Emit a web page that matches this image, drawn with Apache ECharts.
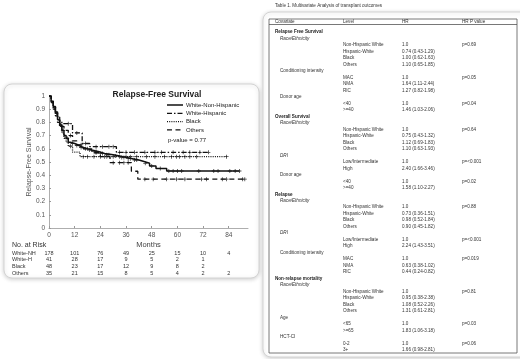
<!DOCTYPE html>
<html>
<head>
<meta charset="utf-8">
<script src="https://cdn.jsdelivr.net/npm/echarts@6/dist/echarts.min.js"></script>
<style>
  html, body { margin: 0; padding: 0; background: #fff; }
  #chart { width: 520px; height: 359px; }
</style>
</head>
<body>
<div id="chart"></div>
<script>
// ---- Kaplan-Meier data (months, survival) ----
const groupNames = ["White-Non-Hispanic", "White-Hispanic", "Black", "Others"];

const wnhTimes  = [0, 1, 2, 3, 4, 5, 6, 7, 8, 9, 10, 12, 14, 16, 18, 20, 23, 26, 30, 33, 36, 39, 42, 44, 47, 50, 55];
const wnhSurv   = [1, 0.96, 0.92, 0.87, 0.82, 0.78, 0.74, 0.70, 0.68, 0.65, 0.64, 0.625, 0.61, 0.60, 0.59, 0.58, 0.565, 0.555, 0.545, 0.535, 0.525, 0.515, 0.505, 0.49, 0.47, 0.45, 0.432];
const wnhCensor = [3.5, 5.5, 6.5, 8.5, 11, 13, 15, 17, 19, 21, 22, 24, 25, 27, 28, 31, 34, 35, 37, 38, 40, 41, 45, 48, 52, 56, 58, 60, 62, 70, 77, 79, 84.5, 87, 89];

const whTimes  = [0, 1, 2, 3, 4, 5, 6, 11, 15.5, 19, 31.5];
const whSurv   = [1, 0.96, 0.92, 0.88, 0.84, 0.81, 0.79, 0.72, 0.64, 0.616, 0.573];
const whCensor = [9, 13, 17, 22, 25, 28, 30, 33, 36, 40, 44.8, 49.5, 52.6, 58, 62.7, 65.8, 70.5, 74.5];

const blackTimes  = [0, 1, 2, 3, 4, 5, 6, 7, 8, 9, 11, 14.5];
const blackSurv   = [1, 0.96, 0.91, 0.87, 0.82, 0.77, 0.72, 0.68, 0.65, 0.62, 0.575, 0.54];
const blackCensor = [2.5, 10, 16, 18, 21, 24, 27, 30, 33, 36, 38, 41, 45.6, 49.5, 54, 57.3, 59.6, 61, 63.5, 65.8, 69, 83];

const othTimes  = [0, 1, 2, 3, 4, 5, 7, 9, 11, 13, 16, 20, 24, 28.5, 38.5, 41.5];
const othSurv   = [1, 0.95, 0.90, 0.85, 0.80, 0.77, 0.74, 0.70, 0.66, 0.63, 0.60, 0.57, 0.54, 0.495, 0.43, 0.37];
const othCensor = [6, 10, 15, 18, 22, 26, 30, 33, 35, 37, 44.8, 48.7, 54.9, 59.6, 63.5, 71.3, 73.6, 81, 83, 90.5, 91.5];

const pValueText = "p-value = 0.77";

// ---- numbers at risk ----
const riskMonths = [0, 12, 24, 36, 48, 60, 72, 84];
const riskLabels = ["White-NH", "White-H", "Black", "Others"];
const riskWNH    = [178, 101, 76, 49, 25, 15, 10, 4];
const riskWH     = [41, 28, 17, 9, 5, 2, 1, null];
const riskBlack  = [48, 23, 17, 12, 9, 8, 2, null];
const riskOthers = [35, 21, 15, 8, 5, 4, 2, 2];

// ---- table on the right ----
const tableTitle = "Table 1. Multivariate Analysis of transplant outcomes";
const tableHeader = ["Covariate", "Level", "HR", "HR P value"];
// [kind, covariate, level, HR, p]  kind: s = section, c = covariate, ci = italic covariate, l = level
const tableRows = [
  ["s", "Relapse Free Survival"],
  ["ci", "Race/Ethnicity"],
  ["l", "", "Non-Hispanic White", "1.0", "p=0.69"],
  ["l", "", "Hispanic-White", "0.74 (0.43-1.29)", ""],
  ["l", "", "Black", "1.00 (0.62-1.63)", ""],
  ["l", "", "Others", "1.10 (0.65-1.85)", ""],
  ["c", "Conditioning intensity"],
  ["l", "", "MAC", "1.0", "p=0.05"],
  ["l", "", "NMA", "1.64 (1.11-2.44)", ""],
  ["l", "", "RIC", "1.27 (0.82-1.98)", ""],
  ["c", "Donor age"],
  ["l", "", "<40", "1.0", "p=0.04"],
  ["l", "", ">=40", "1.46 (1.03-2.06)", ""],
  ["s", "Overall Survival"],
  ["ci", "Race/Ethnicity"],
  ["l", "", "Non-Hispanic White", "1.0", "p=0.64"],
  ["l", "", "Hispanic-White", "0.75 (0.43-1.32)", ""],
  ["l", "", "Black", "1.12 (0.69-1.83)", ""],
  ["l", "", "Others", "1.10 (0.63-1.93)", ""],
  ["ci", "DRI"],
  ["l", "", "Low/Intermediate", "1.0", "p=<0.001"],
  ["l", "", "High", "2.40 (1.66-3.46)", ""],
  ["c", "Donor age"],
  ["l", "", "<40", "1.0", "p=0.02"],
  ["l", "", ">=40", "1.58 (1.10-2.27)", ""],
  ["s", "Relapse"],
  ["ci", "Race/Ethnicity"],
  ["l", "", "Non-Hispanic White", "1.0", "p=0.88"],
  ["l", "", "Hispanic-White", "0.73 (0.36-1.51)", ""],
  ["l", "", "Black", "0.98 (0.52-1.84)", ""],
  ["l", "", "Others", "0.90 (0.45-1.82)", ""],
  ["ci", "DRI"],
  ["l", "", "Low/Intermediate", "1.0", "p=<0.001"],
  ["l", "", "High", "2.24 (1.43-3.51)", ""],
  ["c", "Conditioning intensity"],
  ["l", "", "MAC", "1.0", "p=0.019"],
  ["l", "", "NMA", "0.63 (0.38-1.02)", ""],
  ["l", "", "RIC", "0.44 (0.24-0.82)", ""],
  ["s", "Non-relapse mortality"],
  ["ci", "Race/Ethnicity"],
  ["l", "", "Non-Hispanic White", "1.0", "p=0.81"],
  ["l", "", "Hispanic-White", "0.95 (0.38-2.38)", ""],
  ["l", "", "Black", "1.08 (0.52-2.26)", ""],
  ["l", "", "Others", "1.31 (0.61-2.81)", ""],
  ["c", "Age"],
  ["l", "", "<65", "1.0", "p=0.03"],
  ["l", "", ">=65", "1.83 (1.06-3.18)", ""],
  ["c", "HCT-CI"],
  ["l", "", "0-2", "1.0", "p=0.06"],
  ["l", "", "3+", "1.66 (0.98-2.81)", ""]
];

const FONT = "Liberation Sans, Arial, sans-serif";

function stepData(times, surv, censor) {
  const d = times.map((t, i) => [t, surv[i]]);
  d.push([Math.max(...censor), surv[surv.length - 1]]);
  return d;
}
function survAt(times, surv, t) {
  let s = surv[0];
  for (let i = 0; i < times.length; i++) if (times[i] <= t) s = surv[i];
  return s;
}

const groups = [
  { times: wnhTimes, surv: wnhSurv, censor: wnhCensor, dash: "solid", width: 1.5 },
  { times: whTimes, surv: whSurv, censor: whCensor, dash: [5, 2, 1.5, 2], width: 1.3 },
  { times: blackTimes, surv: blackSurv, censor: blackCensor, dash: [1, 1.2], width: 1.3 },
  { times: othTimes, surv: othSurv, censor: othCensor, dash: [5, 3.5], width: 1.3 }
];

const plusPath = "path://M2,0H3V2H5V3H3V5H2V3H0V2H2Z";

const series = [];
groups.forEach((g, i) => {
  series.push({
    name: groupNames[i],
    type: "line",
    step: "end",
    symbol: "none",
    data: stepData(g.times, g.surv, g.censor),
    lineStyle: { color: "#111", width: g.width, type: g.dash },
    itemStyle: { color: "#111" },
    z: 3
  });
  series.push({
    type: "scatter",
    symbol: plusPath,
    symbolSize: 4,
    itemStyle: { color: "#111" },
    data: g.censor.map(t => [t, survAt(g.times, g.surv, t)]),
    z: 4
  });
});

const chart = echarts.init(document.getElementById("chart"));

const option = {
  animation: false,
  backgroundColor: "#fff",
  textStyle: { fontFamily: FONT },
  title: {
    text: "Relapse-Free Survival",
    left: 152, top: 85, textAlign: "center",
    textStyle: { fontSize: 8.5, fontWeight: "bold", color: "#222", fontFamily: FONT }
  },
  grid: { left: 49, top: 96, width: 199, height: 132, outerBoundsMode: "none" },
  xAxis: {
    type: "value", min: 0, max: 93, interval: 12,
    name: "Months", nameLocation: "middle", nameGap: 13,
    nameTextStyle: { fontSize: 7.5, color: "#444", fontFamily: FONT },
    axisLine: { lineStyle: { color: "#999", width: 0.8 } },
    axisTick: { inside: true, length: 2, lineStyle: { color: "#999" } },
    splitLine: { show: false },
    axisLabel: {
      fontSize: 6.5, color: "#555", margin: 4, showMaxLabel: false,
      formatter: v => (v % 12 === 0 ? String(v) : "")
    }
  },
  yAxis: {
    type: "value", min: 0, max: 1, interval: 0.1,
    name: "Relapse-Free Survival", nameLocation: "middle", nameGap: 15,
    nameTextStyle: { fontSize: 7, color: "#555", fontFamily: FONT },
    axisLine: { show: true, lineStyle: { color: "#999", width: 0.8 } },
    axisTick: { show: true, inside: true, length: 2, lineStyle: { color: "#999" } },
    splitLine: { show: false },
    axisLabel: { fontSize: 6.5, color: "#555", margin: 4, formatter: v => String(Math.round(v * 10) / 10) }
  },
  series
};

chart.setOption(option);

// ---- graphics: cards, legend, p-value, risk table, right-hand table ----
const graphics = [];

graphics.push({
  type: "rect", z: -10, silent: true,
  shape: { x: 4, y: 84, width: 255, height: 194, r: 8 },
  style: { fill: "#fff", stroke: "#d4d4d4", lineWidth: 1, shadowBlur: 4, shadowColor: "rgba(0,0,0,0.18)", shadowOffsetY: 1 }
});
graphics.push({
  type: "rect", z: -10, silent: true,
  shape: { x: 263, y: 12, width: 270, height: 345, r: 8 },
  style: { fill: "#fff", stroke: "#d4d4d4", lineWidth: 1, shadowBlur: 4, shadowColor: "rgba(0,0,0,0.18)", shadowOffsetY: 1 }
});

// legend (line samples share the series line styles)
groupNames.forEach((name, i) => {
  const y = 105 + i * 8.3;
  graphics.push({
    type: "line", silent: true,
    shape: { x1: 167, y1: y, x2: 183, y2: y },
    style: { stroke: "#111", lineWidth: groups[i].width, lineDash: groups[i].dash === "solid" ? null : groups[i].dash }
  });
  graphics.push({
    type: "text", x: 186, y,
    style: { text: name, font: "6px " + FONT, fill: "#222", textVerticalAlign: "middle" }
  });
});

graphics.push({
  type: "text", x: 168, y: 140,
  style: { text: pValueText, font: "6px " + FONT, fill: "#222", textVerticalAlign: "middle" }
});

// numbers at risk, columns placed through the x axis scale
const yBase = chart.convertToPixel({ gridIndex: 0 }, [0, 0])[1];
graphics.push({
  type: "text", x: 12, y: yBase + 17,
  style: { text: "No. at Risk", font: "7px " + FONT, fill: "#333", textVerticalAlign: "middle" }
});
const riskRows = [riskWNH, riskWH, riskBlack, riskOthers];
riskRows.forEach((row, r) => {
  const y = yBase + 25 + r * 6.8;
  graphics.push({
    type: "text", x: 12, y,
    style: { text: riskLabels[r], font: "5.5px " + FONT, fill: "#333", textVerticalAlign: "middle" }
  });
  row.forEach((n, c) => {
    if (n == null) return;
    const x = chart.convertToPixel({ gridIndex: 0 }, [riskMonths[c], 0])[0];
    graphics.push({
      type: "text", x, y,
      style: { text: String(n), font: "5.5px " + FONT, fill: "#333", textAlign: "center", textVerticalAlign: "middle" }
    });
  });
});

// right-hand table
const tLeft = 269, tRight = 517, tTop = 19, tHead = 24.5, tBottom = 353;
const colX = [275, 343, 402, 462];
const rowY0 = 32, rowStep = 6.49;
const tf = "4.6px " + FONT;

graphics.push({
  type: "text", x: 275, y: 6,
  style: { text: tableTitle, font: tf, fill: "#333", textVerticalAlign: "middle" }
});
[[tLeft, tTop, tRight, tTop], [tLeft, tHead, tRight, tHead], [tLeft, tTop, tLeft, tBottom],
 [tRight, tTop, tRight, tBottom], [tLeft, tBottom, tRight, tBottom]].forEach(l => {
  graphics.push({
    type: "line", silent: true,
    shape: { x1: l[0], y1: l[1], x2: l[2], y2: l[3] },
    style: { stroke: "#555", lineWidth: 0.8 }
  });
});
tableHeader.forEach((h, i) => {
  graphics.push({
    type: "text", x: colX[i], y: 21.5,
    style: { text: h, font: tf, fill: "#333", textVerticalAlign: "middle" }
  });
});
tableRows.forEach((row, i) => {
  const y = rowY0 + i * rowStep;
  const kind = row[0];
  if (kind === "s") {
    graphics.push({ type: "text", x: 275, y, style: { text: row[1], font: "bold " + tf, fill: "#222", textVerticalAlign: "middle" } });
  } else if (kind === "c" || kind === "ci") {
    graphics.push({ type: "text", x: 280, y, style: { text: row[1], font: (kind === "ci" ? "italic " : "") + tf, fill: "#333", textVerticalAlign: "middle" } });
  } else {
    [row[2], row[3], row[4]].forEach((t, k) => {
      if (!t) return;
      graphics.push({ type: "text", x: colX[k + 1], y, style: { text: t, font: tf, fill: "#333", textVerticalAlign: "middle" } });
    });
  }
});

chart.setOption({ graphic: { elements: graphics } });
</script>
</body>
</html>
